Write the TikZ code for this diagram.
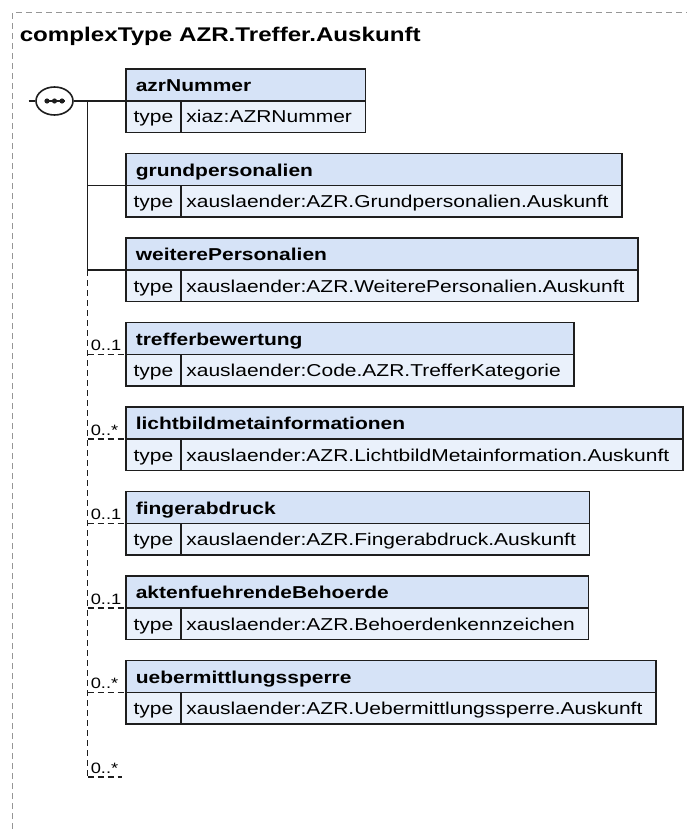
\documentclass[tikz,border=0pt]{standalone}
\usepackage{fontspec}
\setmainfont{Liberation Sans}[FakeStretch=1.22]
\usepackage{tikz}
\usetikzlibrary{positioning,calc,fit,shapes.geometric}
\definecolor{headblue}{RGB}{214,227,247}
\definecolor{rowblue}{RGB}{234,241,251}
\definecolor{boxline}{RGB}{30,30,30}
\definecolor{framegray}{RGB}{150,150,150}
\tikzset{
  typecell/.style={draw=boxline,fill=rowblue,line width=1.6pt,anchor=north west,outer sep=0pt,
    inner xsep=7.6pt,inner ysep=0pt,text height=22pt,text depth=9.5pt,
    font=\fontsize{17.2}{20}\selectfont},
  typeval/.style={typecell,inner xsep=5.5pt},
  headbox/.style={draw=boxline,fill=headblue,line width=1.6pt,inner sep=0pt,outer sep=0pt},
  headtext/.style={anchor=base west,inner sep=0pt,font=\bfseries\fontsize{17.2}{20}\selectfont},
  card/.style={anchor=base west,inner sep=0pt,font=\fontsize{15}{17}\selectfont},
  opt/.style={dash pattern=on 6pt off 4pt},
}

\begin{document}
\begin{tikzpicture}[x=1pt,y=-1pt,line width=1.6pt,draw=boxline]
\useasboundingbox (0,0) rectangle (687,829);
% outer frame
\draw[framegray,line width=1.1pt,dash pattern=on 6pt off 4pt] (12.5,829) -- (12.5,12.5) -- (687,12.5);
\node[anchor=base west,inner sep=0pt,font=\bfseries\fontsize{19.8}{24}\selectfont] (title) at (19,41.5)
  {complexType AZR.Treffer.Auskunft};

% sequence symbol
\node[draw=boxline,ellipse,fill=white,minimum width=37pt,minimum height=28pt,inner sep=0pt] (seq) at (54.5,101) {};
\draw[line width=1.2pt] ($(seq.center)+(-10,0)$) -- ($(seq.center)+(10,0)$);
\foreach \dx in {-7.5,0,7.5}
  \fill[boxline] ($(seq.center)+(\dx,0)$) circle (2.6pt);
\coordinate (in) at (28.5,101);

% elements
\foreach \elname/\eltype [count=\i from 0] in {
  azrNummer/xiaz:AZRNummer,
  grundpersonalien/xauslaender:AZR.Grundpersonalien.Auskunft,
  weiterePersonalien/xauslaender:AZR.WeiterePersonalien.Auskunft,
  trefferbewertung/xauslaender:Code.AZR.TrefferKategorie,
  lichtbildmetainformationen/xauslaender:AZR.LichtbildMetainformation.Auskunft,
  fingerabdruck/xauslaender:AZR.Fingerabdruck.Auskunft,
  aktenfuehrendeBehoerde/xauslaender:AZR.Behoerdenkennzeichen,
  uebermittlungssperre/xauslaender:AZR.Uebermittlungssperre.Auskunft}{
  \pgfmathsetmacro{\hb}{101+84.5*\i}
  \node[typecell] (t\i) at (126,\hb) {type};
  \node[typeval,right=0pt of t\i] (v\i) {\eltype\hspace*{8pt}};
  \coordinate (c\i) at ($(v\i.north east)+(0,-32)$);
  \node[headbox,fit=(t\i.north west)(c\i)] (h\i) {};
  \node[headtext] (n\i) at ($(h\i.south west)+(9,-9.3)$) {\elname};
}

% trunk points
\foreach \i in {0,...,8}{
  \pgfmathsetmacro{\hb}{101+84.5*\i}
  \coordinate (j\i) at (87.5,\hb);
}
\coordinate (e8) at (122,777);

% connectors
\draw (in) -- (seq.west);
\draw (seq.east) -- (t0.north west);
\draw (j0) -- (j2);
\draw (j1) -- (t1.north west);
\draw (j2) -- (t2.north west);
\draw[opt] (j2) -- (j8);
\foreach \i in {3,...,7}
  \draw[opt] (j\i) -- (t\i.north west);
\draw[opt] (j8) -- (e8);

% cardinalities
\foreach \i/\card in {3/0..1,4/0..*,5/0..1,6/0..1,7/0..*,8/0..*}
  \node[card] (k\i) at ($(j\i)+(2.5,-4)$) {\card};
\end{tikzpicture}
\end{document}
